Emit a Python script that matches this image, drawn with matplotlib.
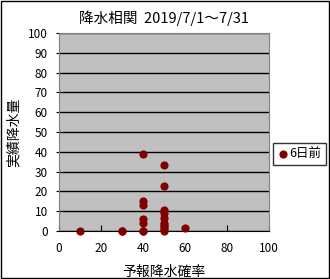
import matplotlib
matplotlib.use('Agg')
import matplotlib.pyplot as plt
from matplotlib.patches import Rectangle

plt.rcParams['font.family'] = ['Noto Sans CJK JP', 'DejaVu Sans']

# 予報降水確率 (%) と 実績降水量 (mm)
prob = [10, 30, 30, 40, 40, 40, 40, 40, 40, 40, 50, 50, 50, 50, 50, 50, 50, 50, 50, 50, 60]
rain = [0, 0, 0, 39, 15, 13, 6, 4, 0, 0, 33.5, 22.5, 10.5, 9, 6.5, 4, 3, 2, 1, 0, 1.5]
series_name = '6日前'
title = '降水相関  2019/7/1～7/31'
xlabel = '予報降水確率'
ylabel = '実績降水量'

fig = plt.figure(figsize=(3.3, 2.79), dpi=100)
fig.patches.append(Rectangle((0.003, 0.004), 0.994, 0.992, transform=fig.transFigure,
                             fill=False, edgecolor='black', linewidth=1))
ax = fig.add_axes([0.179, 0.172, 0.636, 0.710])
ax.set_facecolor('#C0C0C0')
ax.scatter(prob, rain, s=24, color='#800000', zorder=3, label=series_name, clip_on=False)
ax.set_xlim(0, 100)
ax.set_ylim(0, 100)
ax.set_xticks(range(0, 101, 20))
ax.set_yticks(range(0, 101, 10))
ax.yaxis.grid(True, color='black', linewidth=1)
ax.set_axisbelow(True)
for s in ax.spines.values():
    s.set_color('#808080')
ax.spines['bottom'].set_color('black')
ax.tick_params(axis='x', direction='in', length=4, labelsize=8.5, pad=8)
ax.tick_params(axis='y', direction='out', length=2, labelsize=8.5, pad=6)
ax.set_title(title, fontsize=10.5, pad=7)
ax.set_xlabel(xlabel, fontsize=10, labelpad=7)
ax.set_ylabel(ylabel, fontsize=10, labelpad=5)

leg = ax.legend(loc='center left', bbox_to_anchor=(1.0, 0.39), frameon=True, fancybox=False,
                edgecolor='black', fontsize=9, handletextpad=0.0, borderpad=0.35,
                markerscale=1.0, handlelength=1.0, borderaxespad=0.3)
leg.get_frame().set_linewidth(1)

fig.savefig('out.png', dpi=100)
